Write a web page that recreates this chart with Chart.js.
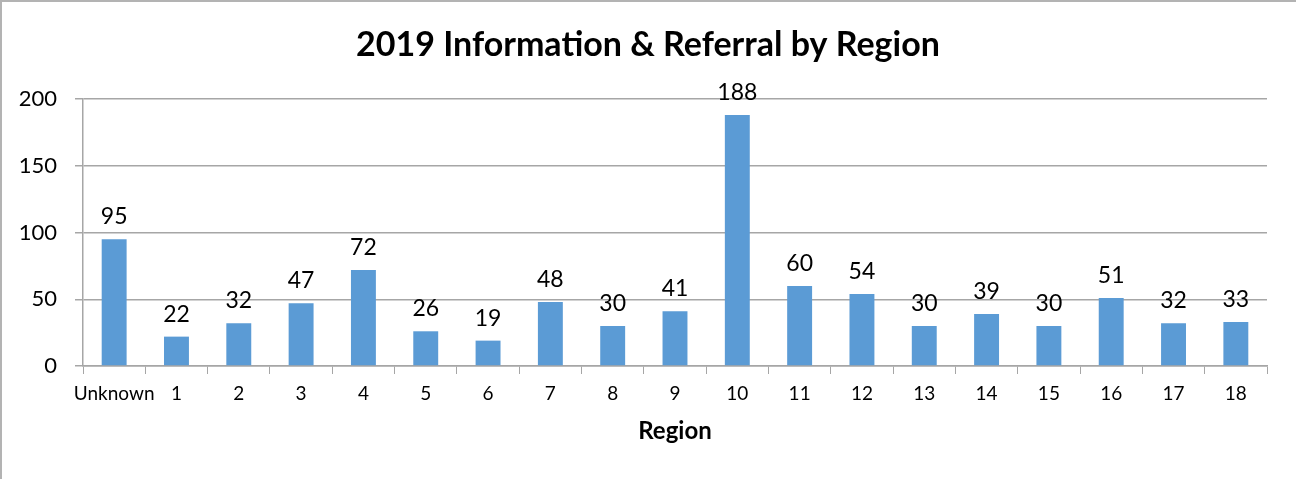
<!DOCTYPE html>
<html>
<head>
<meta charset="utf-8">
<script src="https://cdn.jsdelivr.net/npm/chart.js@4"></script>
<style>
	html, body { margin: 0; padding: 0; background: #fff; }
	#wrap { position: relative; width: 1296px; height: 479px; }
	#wrap canvas { position: absolute; left: 0; top: 0; }
	#frame { position: absolute; left: 0; top: 0; width: 1296px; height: 479px; box-sizing: border-box;
		border-left: 2px solid #b3b3b3; border-top: 2px solid #b3b3b3; pointer-events: none; }
</style>
</head>
<body>
<div id="wrap">
	<canvas id="chart" width="1296" height="479"></canvas>
	<div id="frame"></div>
</div>
<script>
// values
const regions = ['Unknown', '1', '2', '3', '4', '5', '6', '7', '8', '9', '10', '11', '12', '13', '14', '15', '16', '17', '18'];
const counts = [95, 22, 32, 47, 72, 26, 19, 48, 30, 41, 188, 60, 54, 30, 39, 30, 51, 32, 33];
const yTicks = [0, 50, 100, 150, 200];
const chartTitle = '2019 Information & Referral by Region';

const FONT = 'Lato, "Open Sans", sans-serif';
const GRID = '#a6a6a6';

// simple value labels drawn above each bar
const barLabels = {
	id: 'barLabels',
	afterDatasetsDraw(chart) {
		const ctx = chart.ctx;
		const meta = chart.getDatasetMeta(0);
		ctx.save();
		ctx.font = '23px ' + FONT;
		ctx.fillStyle = '#000';
		ctx.textAlign = 'center';
		ctx.textBaseline = 'bottom';
		meta.data.forEach((bar, i) => {
			ctx.fillText(String(counts[i]), bar.x, bar.y - 11);
		});
		ctx.restore();
	}
};

// title centred on the whole canvas (built-in one centres on the padded box)
const canvasTitle = {
	id: 'canvasTitle',
	afterDraw(chart) {
		const ctx = chart.ctx;
		ctx.save();
		ctx.font = 'bold 34px ' + FONT;
		ctx.fillStyle = '#000';
		ctx.textAlign = 'center';
		ctx.textBaseline = 'middle';
		ctx.fillText(chartTitle, chart.width / 2, 45);
		ctx.restore();
	}
};

new Chart(document.getElementById('chart'), {
	type: 'bar',
	data: {
		labels: regions,
		datasets: [{ data: counts, backgroundColor: '#5b9bd5', barPercentage: 0.4, categoryPercentage: 1 }]
	},
	options: {
		responsive: false,
		animation: false,
		layout: { padding: { left: 0, right: 29, top: 99, bottom: 0 } },
		plugins: {
			legend: { display: false },
			tooltip: { enabled: false },
			title: { display: false }
		},
		scales: {
			x: {
				grid: { drawOnChartArea: false, drawTicks: true, tickLength: 8, color: GRID, offset: true },
				border: { color: GRID, width: 1.5 },
				ticks: { color: '#000', font: { family: FONT, size: 19 }, padding: 8, maxRotation: 0, autoSkip: false },
				title: { display: true, text: 'Region', color: '#000', font: { family: FONT, size: 24, weight: 'bold' }, padding: { top: 8, bottom: 33 } },
				afterFit(scale) { scale.height = 113; }
			},
			y: {
				min: 0,
				max: 200,
				afterBuildTicks(scale) { scale.ticks = yTicks.map(v => ({ value: v })); },
				grid: { color: GRID, lineWidth: 1.5, tickLength: 8 },
				border: { color: GRID, width: 1.5 },
				ticks: { color: '#000', font: { family: FONT, size: 22 }, padding: 18 },
				afterFit(scale) { scale.width = 83; }
			}
		}
	},
	plugins: [barLabels, canvasTitle]
});
</script>
</body>
</html>
